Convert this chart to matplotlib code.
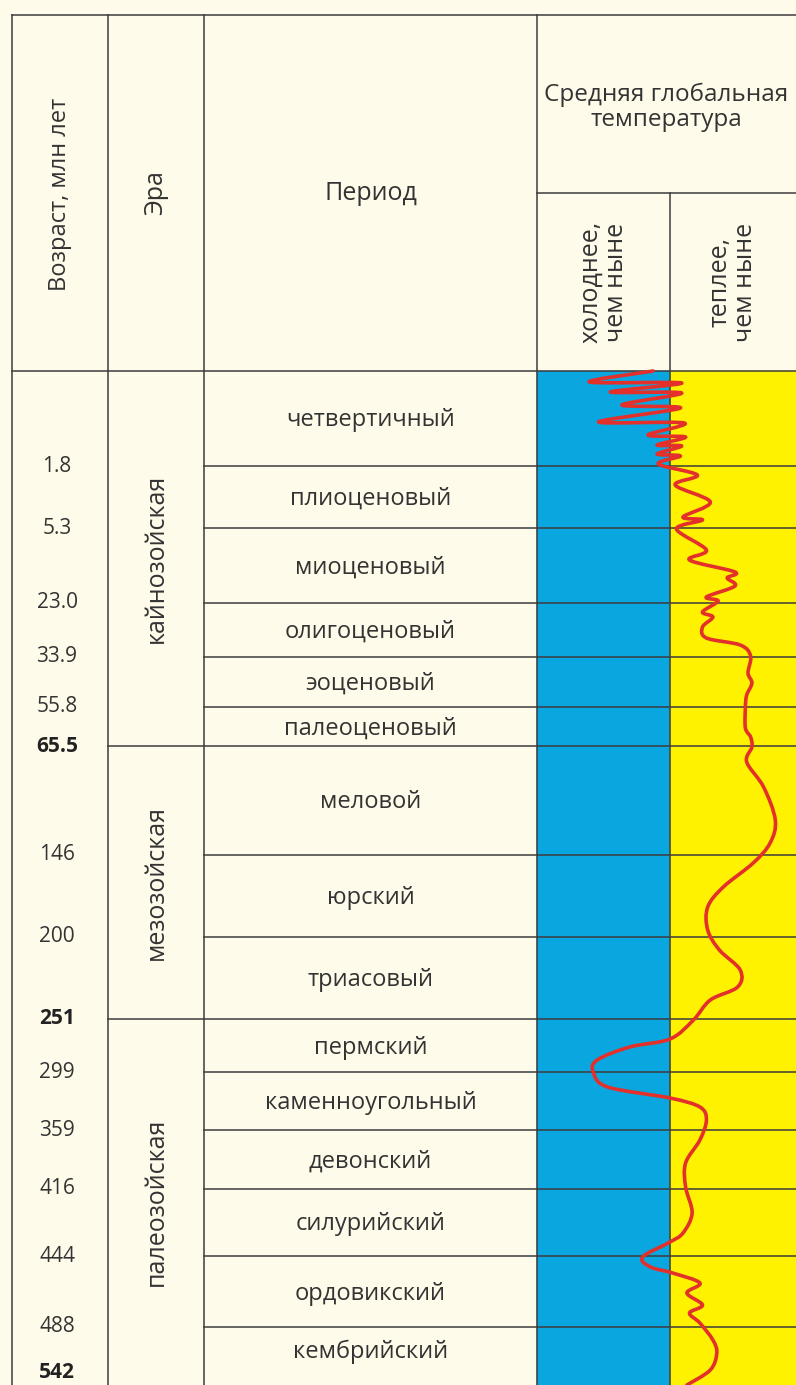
import matplotlib.pyplot as plt
import numpy as np
from matplotlib.patches import Rectangle, PathPatch
from matplotlib.path import Path

plt.rcParams['font.family'] = ['Open Sans', 'DejaVu Sans']

# Periods (top = youngest) and the row edges of the table, in chart units
periods = ['четвертичный', 'плиоценовый', 'миоценовый', 'олигоценовый', 'эоценовый',
           'палеоценовый', 'меловой', 'юрский', 'триасовый', 'пермский',
           'каменноугольный', 'девонский', 'силурийский', 'ордовикский', 'кембрийский']
row_edges = [371, 466, 528, 603, 657, 707, 746, 855, 937, 1019,
             1072, 1130, 1189, 1256, 1327, 1373]
ages = ['1.8', '5.3', '23.0', '33.9', '55.8', '65.5', '146', '200', '251',
        '299', '359', '416', '444', '488', '542']
eras = ['кайнозойская', 'мезозойская', 'палеозойская']
era_rows = [(0, 6), (6, 9), (9, 15)]   # period index ranges of each era

# Temperature curve: position (chart units) and anomaly (+ warmer, - colder than today)
curve_y = [371, 382, 383, 392, 393, 405, 408, 422, 423, 435, 437, 445, 446, 454, 456, 464,
           475, 485, 502, 517, 520, 529, 550, 560, 572, 578, 586, 597, 601, 612, 617, 627,
           638, 645, 656, 673, 683, 695, 707, 728, 737, 747, 762, 787, 820, 843, 863, 887,
           907, 930, 950, 970, 987, 1000, 1020, 1039, 1047, 1060, 1072, 1087, 1098, 1107,
           1120, 1140, 1163, 1187, 1213, 1233, 1242, 1257, 1267, 1273, 1283, 1293, 1305,
           1313, 1323, 1340, 1353, 1370, 1385]
curve_t = [-0.13, -0.62, 0.09, -0.46, 0.09, -0.37, 0.08, -0.55, 0.11, -0.17, 0.12, -0.10,
           0.09, -0.10, 0.08, -0.09, 0.21, 0.04, 0.31, 0.10, 0.25, 0.05, 0.28, 0.15, 0.50,
           0.44, 0.50, 0.28, 0.37, 0.25, 0.33, 0.25, 0.28, 0.54, 0.62, 0.60, 0.63, 0.59,
           0.58, 0.58, 0.62, 0.63, 0.59, 0.72, 0.81, 0.77, 0.64, 0.41, 0.29, 0.29, 0.38,
           0.54, 0.52, 0.31, 0.18, 0.00, -0.31, -0.56, -0.59, -0.48, 0.00, 0.23, 0.28,
           0.23, 0.12, 0.12, 0.17, 0.10, 0.00, -0.21, -0.15, 0.02, 0.23, 0.13, 0.25, 0.15,
           0.23, 0.33, 0.36, 0.31, 0.13]

W, H = 796, 1385
bg = '#FFFBEA'
line_c = '#3c3c3c'
text_c = '#333333'
blue = '#0AA6E0'
yellow = '#FFF200'
red = '#E3302B'

col_x = [12, 108, 204, 537, 670, W]   # table column edges
top_y, sub_y = 15, 193
now_x = col_x[4]
unit = 130   # width of one anomaly unit

fig = plt.figure(figsize=(W / 100, H / 100), dpi=100)
fig.patch.set_facecolor(bg)
ax = fig.add_axes([0, 0, 1, 1])
ax.set_xlim(0, W)
ax.set_ylim(H, 0)
ax.axis('off')

# colder / warmer columns
body_top = row_edges[0]
ax.add_patch(Rectangle((col_x[3], body_top), col_x[4] - col_x[3], H - body_top, color=blue, zorder=1))
ax.add_patch(Rectangle((col_x[4], body_top), col_x[5] - col_x[4], H - body_top, color=yellow, zorder=1))

lw = 1.1
# outer / header lines
ax.plot([col_x[0], W], [top_y, top_y], color=line_c, lw=lw, zorder=3)
ax.plot([col_x[3], W], [sub_y, sub_y], color=line_c, lw=lw, zorder=3)
ax.plot([col_x[0], W], [body_top, body_top], color=line_c, lw=lw, zorder=3)
for x in col_x[:4]:
    ax.plot([x, x], [top_y, H], color=line_c, lw=lw, zorder=3)
ax.plot([col_x[4], col_x[4]], [sub_y, H], color=line_c, lw=lw, zorder=3)

# period boundaries and era boundaries
era_ends = {row_edges[e] for _, e in era_rows}
for y in row_edges[1:-1]:
    x0 = col_x[1] if y in era_ends else col_x[2]
    ax.plot([x0, W], [y, y], color=line_c, lw=lw, zorder=3)

# header texts
ax.text((col_x[0] + col_x[1]) / 2, (top_y + body_top) / 2 + 1, 'Возраст, млн лет', rotation=90,
        ha='center', va='center', fontsize=17, color=text_c)
ax.text((col_x[1] + col_x[2]) / 2, (top_y + body_top) / 2, 'Эра', rotation=90,
        ha='center', va='center', fontsize=18, color=text_c)
ax.text((col_x[2] + col_x[3]) / 2, (top_y + body_top) / 2, 'Период',
        ha='center', va='center', fontsize=18, color=text_c)
ax.text((col_x[3] + W) / 2, 95, 'Средняя глобальная', ha='center', va='center',
        fontsize=17.5, color=text_c)
ax.text((col_x[3] + W) / 2, 120, 'температура', ha='center', va='center',
        fontsize=17.5, color=text_c)
ax.text((col_x[3] + col_x[4]) / 2, (sub_y + body_top) / 2, 'холоднее,\nчем ныне', rotation=90,
        ha='center', va='center', fontsize=18, color=text_c, linespacing=1.05, multialignment='center')
ax.text((col_x[4] + W) / 2, (sub_y + body_top) / 2, 'теплее,\nчем ныне', rotation=90,
        ha='center', va='center', fontsize=18, color=text_c, linespacing=1.05, multialignment='center')

# period names
for i, name in enumerate(periods):
    ax.text((col_x[2] + col_x[3]) / 2, (row_edges[i] + row_edges[i + 1]) / 2 + 2, name,
            ha='center', va='center', fontsize=17, color=text_c)

# age labels at lower edge of each period
for i, a in enumerate(ages):
    y = row_edges[i + 1]
    ax.text(57, y, a, ha='center', va='center', fontsize=15,
            color='#222222' if y in era_ends else text_c,
            fontweight='bold' if y in era_ends else 'normal')

# era names
for name, (s, e) in zip(eras, era_rows):
    y1 = row_edges[e] if e < len(row_edges) - 1 else H
    ax.text((col_x[1] + col_x[2]) / 2, (row_edges[s] + y1) / 2, name, rotation=90,
            ha='center', va='center', fontsize=18, color=text_c)

# temperature curve as smooth Catmull-Rom -> Bezier path
px = now_x + np.array(curve_t) * unit
py = np.array(curve_y, dtype=float)
pts = np.column_stack([px, py])
ext = np.vstack([pts[0], pts, pts[-1]])
verts = [tuple(pts[0])]
codes = [Path.MOVETO]
for i in range(len(pts) - 1):
    p0, p1, p2, p3 = ext[i], ext[i + 1], ext[i + 2], ext[i + 3]
    c1 = p1 + (p2 - p0) / 6
    c2 = p2 - (p3 - p1) / 6
    verts += [tuple(c1), tuple(c2), tuple(p2)]
    codes += [Path.CURVE4] * 3
ax.add_patch(PathPatch(Path(verts, codes), facecolor='none', edgecolor=red, lw=2.6,
                       capstyle='round', joinstyle='round', zorder=5))

fig.savefig('out.png', dpi=100, facecolor=bg)
